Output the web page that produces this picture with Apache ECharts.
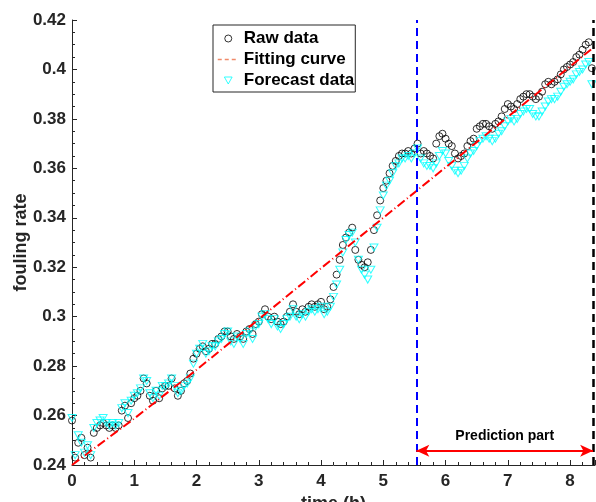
<!DOCTYPE html>
<html>
<head>
<meta charset="UTF-8">
<title>fouling rate</title>
<script src="https://cdn.jsdelivr.net/npm/echarts@6/dist/echarts.min.js"></script>
<style>
  html, body { margin: 0; padding: 0; background: #fff; }
  #main { width: 596px; height: 502px; }
</style>
</head>
<body>
<div id="main"></div>
<script>
// sampling step of the measurements (hours)
var dt = 0.05;

// measured fouling rate, one value every dt
var rawData = [
  0.258, 0.243, 0.249, 0.251, 0.244, 0.247, 0.243, 0.253, 0.255, 0.256,
  0.257, 0.256, 0.255, 0.256, 0.255, 0.256, 0.262, 0.264, 0.259, 0.265,
  0.267, 0.268, 0.270, 0.275, 0.273, 0.268, 0.266, 0.270, 0.267, 0.271,
  0.272, 0.272, 0.275, 0.271, 0.268, 0.270, 0.273, 0.274, 0.277, 0.283,
  0.285, 0.287, 0.288, 0.286, 0.287, 0.289, 0.289, 0.291, 0.292, 0.294,
  0.294, 0.292, 0.291, 0.293, 0.292, 0.291, 0.294, 0.295, 0.293, 0.297,
  0.298, 0.301, 0.303, 0.300, 0.299, 0.300, 0.298, 0.297, 0.298, 0.300,
  0.302, 0.305, 0.302, 0.301, 0.303, 0.302, 0.304, 0.305, 0.304, 0.305,
  0.306, 0.303, 0.304, 0.307, 0.312, 0.317, 0.323, 0.329, 0.332, 0.334,
  0.336, 0.327, 0.323, 0.321, 0.320, 0.322, 0.327, 0.335, 0.341, 0.347,
  0.352, 0.355, 0.358, 0.361, 0.363, 0.365, 0.366, 0.366, 0.367, 0.366,
  0.368, 0.370, 0.366, 0.367, 0.366, 0.365, 0.364, 0.370, 0.373, 0.374,
  0.372, 0.370, 0.369, 0.366, 0.364, 0.365, 0.366, 0.369, 0.371, 0.372,
  0.376, 0.377, 0.378, 0.378, 0.377, 0.376, 0.378, 0.379, 0.381, 0.384,
  0.386, 0.385, 0.384, 0.386, 0.388, 0.389, 0.390, 0.390, 0.389, 0.388,
  0.389, 0.391, 0.394, 0.395, 0.394, 0.395, 0.396, 0.398, 0.400, 0.401,
  0.402, 0.403, 0.405, 0.406, 0.408, 0.410, 0.411, 0.4005
];

// model output, same time grid
var forecastData = [
  0.259, 0.244, 0.252, 0.249, 0.245, 0.248, 0.244, 0.255, 0.257, 0.258,
  0.259, 0.257, 0.256, 0.257, 0.256, 0.257, 0.263, 0.265, 0.261, 0.266,
  0.268, 0.269, 0.271, 0.275, 0.274, 0.269, 0.267, 0.270, 0.268, 0.272,
  0.272, 0.273, 0.275, 0.272, 0.269, 0.270, 0.272, 0.273, 0.275, 0.281,
  0.285, 0.287, 0.289, 0.285, 0.286, 0.288, 0.288, 0.290, 0.291, 0.293,
  0.294, 0.290, 0.289, 0.292, 0.291, 0.289, 0.293, 0.294, 0.291, 0.296,
  0.297, 0.300, 0.301, 0.299, 0.297, 0.299, 0.296, 0.295, 0.297, 0.299,
  0.300, 0.303, 0.300, 0.299, 0.301, 0.300, 0.302, 0.303, 0.302, 0.303,
  0.304, 0.301, 0.302, 0.304, 0.308, 0.313, 0.319, 0.326, 0.331, 0.333,
  0.334, 0.330, 0.323, 0.319, 0.317, 0.315, 0.319, 0.328, 0.336, 0.343,
  0.349, 0.353, 0.355, 0.358, 0.361, 0.362, 0.364, 0.364, 0.365, 0.364,
  0.366, 0.368, 0.364, 0.362, 0.361, 0.361, 0.360, 0.362, 0.365, 0.367,
  0.366, 0.363, 0.361, 0.359, 0.358, 0.359, 0.361, 0.364, 0.366, 0.367,
  0.369, 0.371, 0.372, 0.373, 0.372, 0.371, 0.372, 0.374, 0.375, 0.377,
  0.379, 0.380, 0.379, 0.380, 0.382, 0.383, 0.384, 0.384, 0.382, 0.381,
  0.381, 0.383, 0.385, 0.387, 0.388, 0.388, 0.389, 0.391, 0.393, 0.394,
  0.395, 0.396, 0.398, 0.399, 0.400, 0.402, 0.403, 0.394
];

// fitted trend, read at whole hours
var fitTime = [0, 1, 2, 3, 4, 5, 6, 7, 8, 8.4];
var fitValue = [0.2400, 0.2588, 0.2785, 0.2990, 0.3196, 0.3400, 0.3604, 0.3808, 0.4012, 0.4094];

var splitTime = 5.53;   // start of the prediction part
var endTime = 8.37;     // end of the data
var arrowLevel = 0.2458;

var font = 'Liberation Sans, Arial, Helvetica, sans-serif';
var ink = '#262626';

function pairs(values) {
  return values.map(function (v, i) { return [+(i * dt).toFixed(2), v]; });
}
var fitData = fitTime.map(function (t, i) { return [t, fitValue[i]]; });

var tri = 'path://M0,0L10,0L5,9Z';

var myChart = echarts.init(document.getElementById('main'));
var option = {
  animation: false,
  backgroundColor: '#fff',
  grid: { left: 72, top: 20, right: 1, bottom: 37, containLabel: false, outerBoundsMode: 'none' },
  legend: {
    orient: 'vertical',
    left: 213,
    top: 25,
    padding: [5, 1, 3, 4],
    itemWidth: 21,
    itemHeight: 7,
    itemGap: 4,
    borderColor: ink,
    borderWidth: 1,
    backgroundColor: '#fff',
    selectedMode: false,
    lineStyle: { color: '#f08a6a', width: 1.5, type: [4, 3] },
    textStyle: { fontFamily: font, fontWeight: 'bold', fontSize: 17, color: '#000' },
    data: [
      { name: 'Raw data', itemStyle: { color: 'transparent', borderColor: '#000', borderWidth: 1 } },
      {
        name: 'Fitting curve',
        itemStyle: { color: 'transparent', borderColor: 'transparent', borderWidth: 0 },
        lineStyle: { color: '#f08a6a', width: 1.5, type: [4, 3] }
      },
      { name: 'Forecast data', itemStyle: { color: 'transparent', borderColor: '#00ffff', borderWidth: 1 } }
    ]
  },
  xAxis: {
    type: 'value',
    min: 0,
    max: 8.4,
    interval: 1,
    name: 'time (h)',
    nameLocation: 'middle',
    nameGap: 30,
    nameMoveOverlap: false,
    nameTextStyle: { fontFamily: font, fontWeight: 'bold', fontSize: 18, color: ink },
    axisLine: { lineStyle: { color: ink, width: 1 } },
    axisTick: { inside: true, length: 5, lineStyle: { color: ink } },
    minorTick: { show: true, splitNumber: 5, length: 3, lineStyle: { color: ink } },
    axisLabel: { margin: 8, showMaxLabel: false, fontFamily: font, fontWeight: 'bold', fontSize: 17, color: ink },
    splitLine: { show: false }
  },
  yAxis: {
    type: 'value',
    min: 0.24,
    max: 0.42,
    interval: 0.02,
    name: 'fouling rate',
    nameLocation: 'middle',
    nameGap: 42,
    nameMoveOverlap: false,
    nameTextStyle: { fontFamily: font, fontWeight: 'bold', fontSize: 18, color: ink },
    axisLine: { show: true, lineStyle: { color: ink, width: 1 } },
    axisTick: { show: true, inside: true, length: 5, lineStyle: { color: ink } },
    minorTick: { show: true, splitNumber: 4, length: 3, lineStyle: { color: ink } },
    axisLabel: { margin: 6, fontFamily: font, fontWeight: 'bold', fontSize: 17, color: ink },
    splitLine: { show: false }
  },
  series: [
    {
      name: 'Raw data',
      type: 'scatter',
      data: pairs(rawData),
      symbol: 'circle',
      symbolSize: 7,
      itemStyle: { color: 'transparent', borderColor: '#000', borderWidth: 1 }
    },
    {
      name: 'Fitting curve',
      type: 'line',
      data: fitData,
      symbol: 'none',
      showSymbol: false,
      itemStyle: { color: '#ff0000' },
      lineStyle: { color: '#ff0000', width: 2, type: [9, 3, 1, 3] }
    },
    {
      name: 'Forecast data',
      type: 'scatter',
      data: pairs(forecastData),
      symbol: tri,
      symbolSize: [8, 7],
      itemStyle: { color: 'transparent', borderColor: '#00ffff', borderWidth: 1 }
    },
    {
      // annotations: split lines and the prediction arrow
      type: 'line',
      data: [],
      silent: true,
      markLine: {
        silent: true,
        symbol: 'none',
        label: { show: false },
        data: [
          [{ coord: [splitTime, 0.24], lineStyle: { color: '#0000ff', width: 2, type: [8, 5] } },
           { coord: [splitTime, 0.42] }],
          [{ coord: [endTime, 0.24], lineStyle: { color: '#000', width: 2.5, type: [8, 5] } },
           { coord: [endTime, 0.42] }],
          [{
            coord: [splitTime, arrowLevel],
            symbol: 'arrow',
            symbolSize: [9, 13],
            lineStyle: { color: '#ff0000', width: 2, type: 'solid' },
            label: {
              show: true,
              position: 'insideMiddleTop',
              distance: 8,
              formatter: 'Prediction part',
              fontFamily: font,
              fontWeight: 'bold',
              fontSize: 14,
              color: '#000'
            }
          }, {
            coord: [endTime, arrowLevel],
            symbol: 'arrow',
            symbolSize: [9, 13]
          }]
        ]
      }
    }
  ]
};
myChart.setOption(option);
</script>
</body>
</html>
